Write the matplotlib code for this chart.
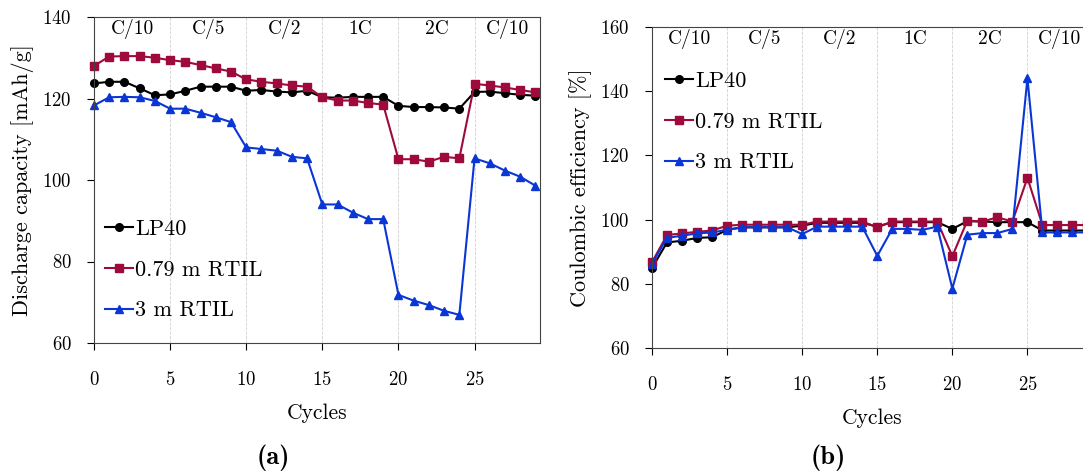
import matplotlib
matplotlib.use("Agg")
import matplotlib.pyplot as plt

plt.rcParams['font.family'] = 'cmr10'
plt.rcParams['mathtext.fontset'] = 'cm'
plt.rcParams['axes.formatter.use_mathtext'] = True

cycles = list(range(30))

# discharge capacity [mAh/g]
cap_lp40 = [123.7, 124.1, 124.1, 122.5, 120.8, 121.0, 121.9, 122.9, 122.9, 122.9,
            121.9, 122.1, 121.7, 121.5, 121.9, 120.3, 120.2, 120.4, 120.4, 120.4,
            118.2, 117.9, 117.9, 117.8, 117.5, 121.6, 121.7, 121.3, 120.9, 120.7]
cap_079 = [128.0, 130.3, 130.4, 130.4, 130.0, 129.4, 129.0, 128.2, 127.4, 126.6,
           124.7, 124.1, 123.7, 123.2, 122.9, 120.3, 119.5, 119.5, 118.9, 118.5,
           105.1, 105.1, 104.5, 105.7, 105.3, 123.6, 123.2, 122.7, 122.1, 121.5]
cap_3m = [118.3, 120.3, 120.4, 120.3, 119.4, 117.5, 117.5, 116.5, 115.4, 114.2,
          108.0, 107.6, 107.2, 105.7, 105.3, 94.0, 94.0, 92.0, 90.4, 90.4,
          71.8, 70.4, 69.3, 67.9, 66.9, 105.3, 104.1, 102.3, 100.8, 98.6]

# coulombic efficiency [%]
ce_lp40 = [84.9, 92.9, 93.4, 94.3, 94.5, 96.8, 97.6, 97.6, 97.6, 97.6,
           98.1, 99.0, 99.0, 99.0, 99.0, 97.8, 99.2, 99.2, 99.2, 99.2,
           97.1, 99.5, 99.4, 99.2, 99.2, 99.2, 96.6, 96.6, 96.6, 96.6]
ce_079 = [86.7, 95.2, 95.7, 96.2, 96.6, 98.1, 98.4, 98.4, 98.4, 98.4,
          98.4, 99.4, 99.4, 99.4, 99.4, 97.6, 99.4, 99.4, 99.4, 99.4,
          88.6, 99.7, 99.4, 100.7, 99.4, 113.0, 98.3, 98.3, 98.3, 98.3]
ce_3m = [86.3, 94.3, 95.0, 95.7, 96.0, 96.8, 97.6, 97.6, 97.6, 97.6,
         95.5, 97.8, 97.8, 97.8, 97.8, 88.7, 97.1, 97.1, 96.8, 97.8,
         78.5, 95.3, 95.8, 95.8, 97.1, 144.0, 96.0, 96.0, 96.0, 96.0]

rate_edges = [0, 5, 10, 15, 20, 25]
rate_labels = ["C/10", "C/5", "C/2", "1C", "2C", "C/10"]
labels = ["LP40", "0.79 m RTIL", "3 m RTIL"]
colors = ["black", "#9e0a3c", "#0a36d6"]
markers = ["o", "s", "^"]

fig = plt.figure(figsize=(10.83, 4.73), dpi=100)
ax1 = fig.add_axes([94 / 1083, 1 - 343 / 473, 446 / 1083, 326 / 473])
ax2 = fig.add_axes([652 / 1083, 1 - 348 / 473, 440 / 1083, 321 / 473])


def draw(ax, series, ylim, yticks, ylabel, label_y, leg_anchor):
    for e in rate_edges[1:]:
        ax.axvline(e, color="#d0d0d0", ls="--", lw=0.6, zorder=0)
    for ys, lab, c, m in zip(series, labels, colors, markers):
        ax.plot(cycles, ys, color=c, marker=m, ms=5.5, lw=1.5, label=lab, clip_on=False)
    ax.set_xlim(0, 29.3)
    ax.set_ylim(*ylim)
    ax.set_xticks([0, 5, 10, 15, 20, 25])
    ax.set_yticks(yticks)
    ends = rate_edges[1:] + [29.3]
    for s, e, t in zip(rate_edges, ends, rate_labels):
        ax.text((s + e) / 2, label_y, t, ha="center", va="center", fontsize=14)
    ax.set_xlabel("Cycles", fontsize=15.5, labelpad=10.5)
    ax.set_ylabel(ylabel, fontsize=16, labelpad=6)
    ax.tick_params(direction="out", length=5, labelsize=13.5)
    ax.tick_params(axis="x", pad=15)
    ax.tick_params(axis="y", pad=11)
    for sp in ax.spines.values():
        sp.set_color("#444444")
    ax.legend(loc="center left", bbox_to_anchor=leg_anchor, frameon=False, fontsize=16,
              handlelength=1.25, handletextpad=0.1, labelspacing=0.95,
              borderaxespad=0, borderpad=0)


draw(ax1, [cap_lp40, cap_079, cap_3m], (60, 140), [60, 80, 100, 120, 140],
     "Discharge capacity [mAh/g]", 137.0, (0.025, 0.224))
draw(ax2, [ce_lp40, ce_079, ce_3m], (60, 160), [60, 80, 100, 120, 140, 160],
     "Coulombic efficiency [%]", 156.3, (0.03, 0.704))

fig.text(273 / 1083, 1 - 458 / 473, "(a)", family="cmb10", fontsize=19, ha="center", va="center")
fig.text(828 / 1083, 1 - 458 / 473, "(b)", family="cmb10", fontsize=19, ha="center", va="center")

fig.savefig("out.png", dpi=100)
